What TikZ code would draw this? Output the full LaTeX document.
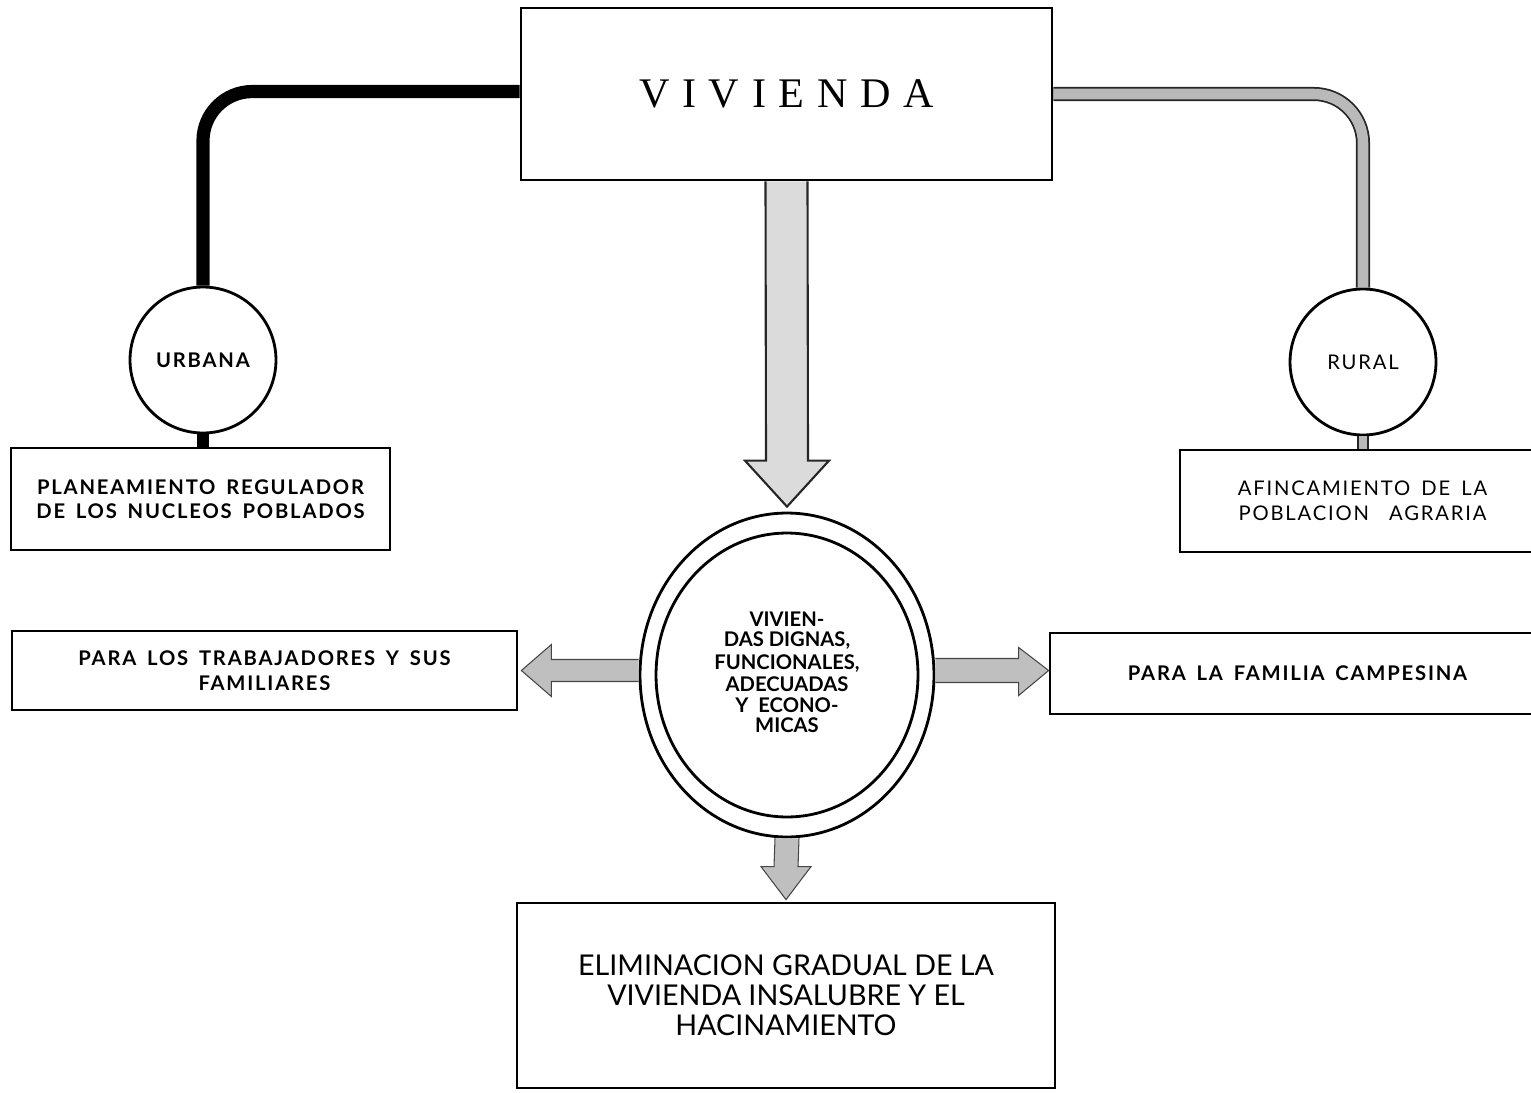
\documentclass[tikz,border=0pt]{standalone}
\usepackage{fontspec}
\setmainfont{Lato}
\newfontfamily\boxfont[LetterSpace=9,WordSpace=1.6]{Lato}
\newfontfamily\titlefont[LetterSpace=30]{Liberation Serif}
\usetikzlibrary{calc,shapes.geometric}

\tikzset{
  box/.style={draw, line width=1.6pt, align=center, inner sep=0pt},
  ring/.style={draw, circle, line width=1.6pt, minimum size=2.92cm, inner sep=0pt},
  smalltxt/.style={font=\boxfont\fontsize{11.5}{14}\selectfont\bfseries},
  pipeurb/.style={line width=7.5pt, rounded corners=28pt},
  piperur/.style={draw=black!85, line width=1pt, double=gray!55, double distance=6pt, rounded corners=28pt},
  bigarrow/.style={fill=gray!28, draw=black!85, line width=1.2pt},
  sidearrow/.style={fill=gray!50, draw=gray!55!black, line width=0.6pt}
}

\begin{document}
\begin{tikzpicture}[x=0.02cm, y=-0.02cm]
  \useasboundingbox (0,0) rectangle (1531,1092);

  % main boxes
  \node[box, minimum width=10.62cm, minimum height=3.44cm] (viv) at (786.5,94)
    {\titlefont\fontsize{24}{28}\selectfont VIVIENDA};
  \node[box, font=\fontsize{16.3}{17.2}\selectfont, minimum width=10.76cm, minimum height=3.7cm] (elim) at (786,995.5)
    {ELIMINACION GRADUAL DE LA\\ VIVIENDA INSALUBRE Y EL\\ HACINAMIENTO};

  % urbana branch
  \node[ring, smalltxt] (urb) at (203,360) {URBANA};
  \node[box, smalltxt, minimum width=7.58cm, minimum height=2.04cm] (plan) at (200.5,499)
    {PLANEAMIENTO REGULADOR\\ DE LOS NUCLEOS POBLADOS};
  \draw[pipeurb] ([yshift=1.4pt]viv.west) -| (urb.north);
  \draw[line width=7pt] (urb.south) -- (urb.south |- plan.north);

  % rural branch
  \node[ring, font=\boxfont\fontsize{11.5}{14}\selectfont] (rur) at (1363,362) {RURAL};
  \node[box, font=\boxfont\fontsize{11.5}{14}\selectfont, minimum width=7.3cm, minimum height=2.04cm] (afin) at (1362.5,501)
    {AFINCAMIENTO DE LA\\ POBLACION\quad AGRARIA};
  \draw[piperur] (viv.east) -| (rur.north);
  \draw[draw=black!85, line width=1pt, double=gray!55, double distance=5pt] (rur.south) -- (rur.south |- afin.north);

  % centre
  \node[draw, ellipse, line width=1.6pt, minimum width=5.88cm, minimum height=6.48cm, inner sep=0pt] (dig) at (787,675) {};
  \node[draw, ellipse, line width=1.6pt, minimum width=5.24cm, minimum height=5.68cm, inner sep=0pt,
        font=\fontsize{11.5}{13}\selectfont\bfseries] (digin) at (dig.center)
    {\raisebox{3.5pt}{\shortstack{VIVIEN-\\ DAS DIGNAS,\\ FUNCIONALES,\\ ADECUADAS\\ Y\ \ ECONO-\\ MICAS}}};

  \node[box, smalltxt, minimum width=10.1cm, minimum height=1.58cm] (trab) at (264.5,670.5)
    {PARA LOS TRABAJADORES Y SUS\\ FAMILIARES};
  \node[box, smalltxt, minimum width=9.9cm, minimum height=1.62cm] (camp) at (1297.5,673.5)
    {PARA LA FAMILIA CAMPESINA};

  % block arrows
  \filldraw[bigarrow] ($(viv.south)+(-21,0)$) -- ($(dig.north)+(-21,-51)$) -- ($(dig.north)+(-42,-51)$)
    -- ($(dig.north)+(0,-5)$) -- ($(dig.north)+(42,-51)$) -- ($(dig.north)+(21,-51)$) -- ($(viv.south)+(21,0)$);
  \filldraw[sidearrow] ($(dig.south)+(-12,0)$) -- ($(elim.north)+(-12,-35)$) -- ($(elim.north)+(-25,-35)$)
    -- ($(elim.north)+(0,-2)$) -- ($(elim.north)+(25,-35)$) -- ($(elim.north)+(12,-35)$) -- ($(dig.south)+(12,0)$);
  \filldraw[sidearrow] ($(dig.west |- trab.east)+(0,-11)$) -- ($(trab.east)+(33,-11)$) -- ($(trab.east)+(33,-26)$)
    -- ($(trab.east)+(3,0)$) -- ($(trab.east)+(33,26)$) -- ($(trab.east)+(33,11)$) -- ($(dig.west |- trab.east)+(0,11)$);
  \filldraw[sidearrow] ($(dig.east |- camp.west)+(0,-15)$) -- ($(camp.west)+(-30,-15)$) -- ($(camp.west)+(-30,-26)$)
    -- ($(camp.west)+(0,-3)$) -- ($(camp.west)+(-30,22)$) -- ($(camp.west)+(-30,9)$) -- ($(dig.east |- camp.west)+(0,9)$);
\end{tikzpicture}
\end{document}
